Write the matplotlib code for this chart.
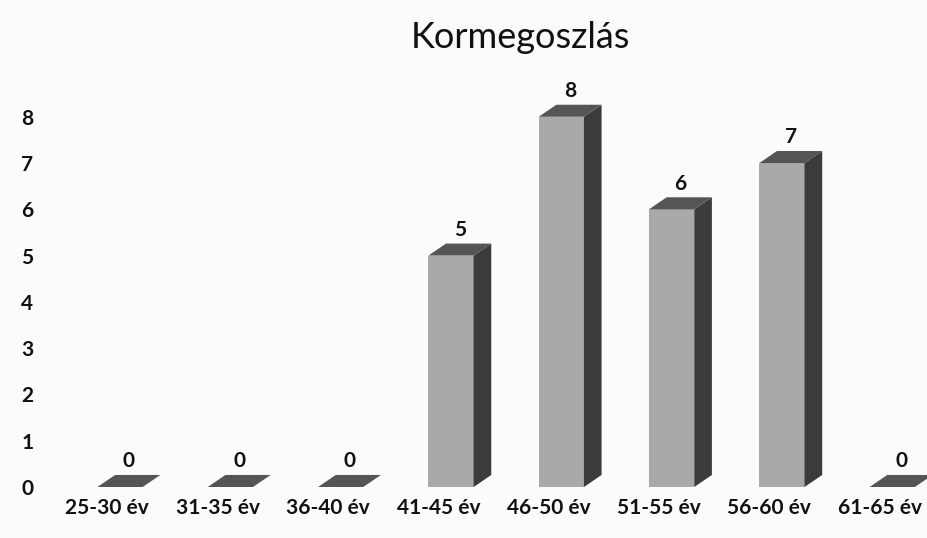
import matplotlib
matplotlib.use("Agg")
import matplotlib.pyplot as plt
from matplotlib.patches import Polygon

plt.rcParams['font.family'] = ['Lato', 'DejaVu Sans']

# adatok
categories = ['25-30 év', '31-35 év', '36-40 év', '41-45 év',
              '46-50 év', '51-55 év', '56-60 év', '61-65 év']
values = [0, 0, 0, 5, 8, 6, 7, 0]
yticks = [0, 1, 2, 3, 4, 5, 6, 7, 8]

front_col = '#a9a9a9'
side_col = '#3b3b3b'
top_col = '#555555'

fig = plt.figure(figsize=(9.27, 5.38), dpi=100)
fig.patch.set_facecolor('#fbfbfb')
ax = fig.add_axes([50 / 927, 51 / 538, 877 / 927, 398 / 538])
ax.set_facecolor('none')

x = list(range(len(categories)))
w = 0.41      # szélesség
off = -0.09   # eltolás a kategóriától
dx, dy = 0.16, 0.26  # mélység (3D hatás)

ax.bar([i + off for i in x], values, width=w, align='edge',
       color=front_col, edgecolor='none', zorder=2)

for i, v in zip(x, values):
    l = i + off
    r = l + w
    # oldallap
    if v > 0:
        ax.add_patch(Polygon([(r, 0), (r + dx, dy), (r + dx, v + dy), (r, v)],
                             closed=True, facecolor=side_col, edgecolor='none', zorder=2))
    # tetőlap
    ax.add_patch(Polygon([(l, v), (r, v), (r + dx, v + dy), (l + dx, v + dy)],
                         closed=True, facecolor=top_col, edgecolor='none', zorder=3))
    ax.text(l + w / 2 + dx / 2, v + dy + 0.08, str(v), ha='center', va='bottom',
            fontsize=15, fontweight='bold', color='#111111')

ax.set_xlim(-0.52, 7.43)
ax.set_ylim(0, 8.6)
ax.set_xticks(x)
ax.set_xticklabels(categories, fontsize=15, fontweight='bold')
ax.set_yticks(yticks)
ax.set_yticklabels([str(t) for t in yticks], fontsize=15, fontweight='bold')
ax.tick_params(axis='both', length=0, colors='#111111')
ax.tick_params(axis='x', pad=8)
ax.tick_params(axis='y', pad=12)
for s in ax.spines.values():
    s.set_visible(False)

fig.text(520 / 927, 1 - 38 / 538, 'Kormegoszlás', ha='center', va='center',
         fontsize=26, color='#111111')

fig.savefig('out.png', dpi=100, facecolor=fig.get_facecolor())
